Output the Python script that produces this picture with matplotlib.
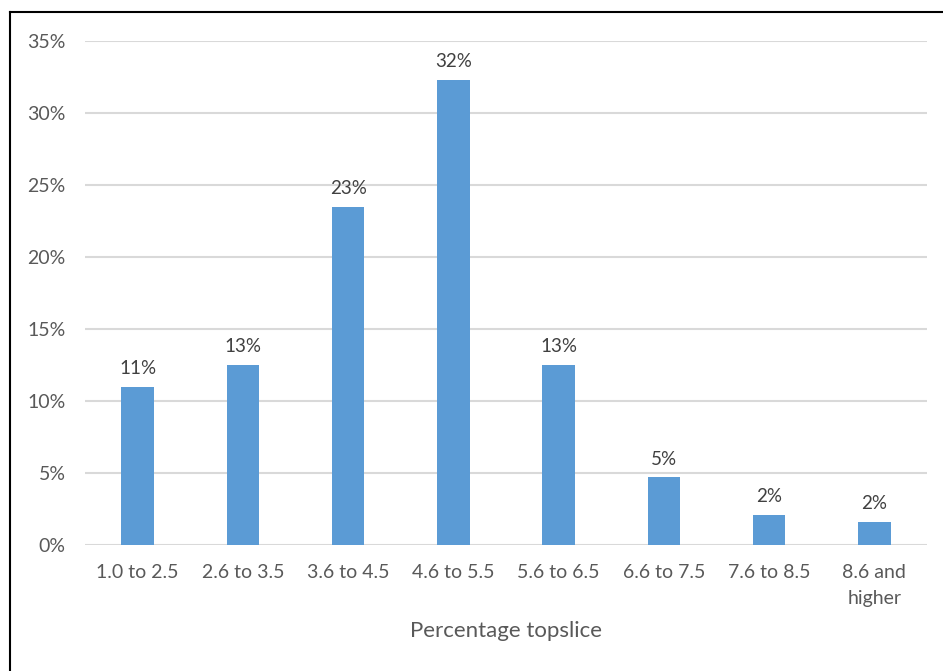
import numpy as np
import matplotlib.pyplot as plt
from matplotlib.lines import Line2D

categories = ['1.0 to 2.5', '2.6 to 3.5', '3.6 to 4.5', '4.6 to 5.5',
              '5.6 to 6.5', '6.6 to 7.5', '7.6 to 8.5', '8.6 and\nhigher']
values = [11.0, 12.5, 23.5, 32.3, 12.5, 4.7, 2.1, 1.6]
labels = ['11%', '13%', '23%', '32%', '13%', '5%', '2%', '2%']

plt.rcParams['font.family'] = ['Lato', 'DejaVu Sans']
grey = '#595959'

fig = plt.figure(figsize=(9.43, 6.71), dpi=100)
ax = fig.add_axes([85/943, 126/671, 842/943, 504/671])

x = np.arange(len(categories))
ax.bar(x, values, width=0.31, color='#5b9bd5', zorder=3)
for xi, v, lab in zip(x, values, labels):
    ax.annotate(lab, (xi, v), xytext=(0, 7), textcoords='offset points',
                ha='center', va='bottom', fontsize=13.5, color='#404040')

ax.set_xlim(-0.5, len(categories) - 0.5)
ax.set_ylim(0, 35)
ax.set_yticks(np.arange(0, 36, 5))
ax.set_yticklabels([f'{t}%' for t in range(0, 36, 5)])
ax.set_xticks(x)
ax.set_xticklabels(categories, linespacing=1.6)
ax.tick_params(axis='both', length=0, labelsize=14, labelcolor=grey)
ax.tick_params(axis='y', pad=14)
ax.tick_params(axis='x', pad=14)
ax.grid(axis='y', color='#d9d9d9', linewidth=1.5, zorder=0)
for sp in ax.spines.values():
    sp.set_visible(False)
ax.set_xlabel('Percentage topslice', fontsize=16, color=grey, labelpad=10)

# screenshot frame (top and left edges)
fig.add_artist(Line2D([10/943, 1], [1 - 12/671, 1 - 12/671], color='black', lw=1.5, transform=fig.transFigure))
fig.add_artist(Line2D([10/943, 10/943], [0, 1 - 12/671], color='black', lw=1.5, transform=fig.transFigure))

fig.savefig('out.png', dpi=100)
